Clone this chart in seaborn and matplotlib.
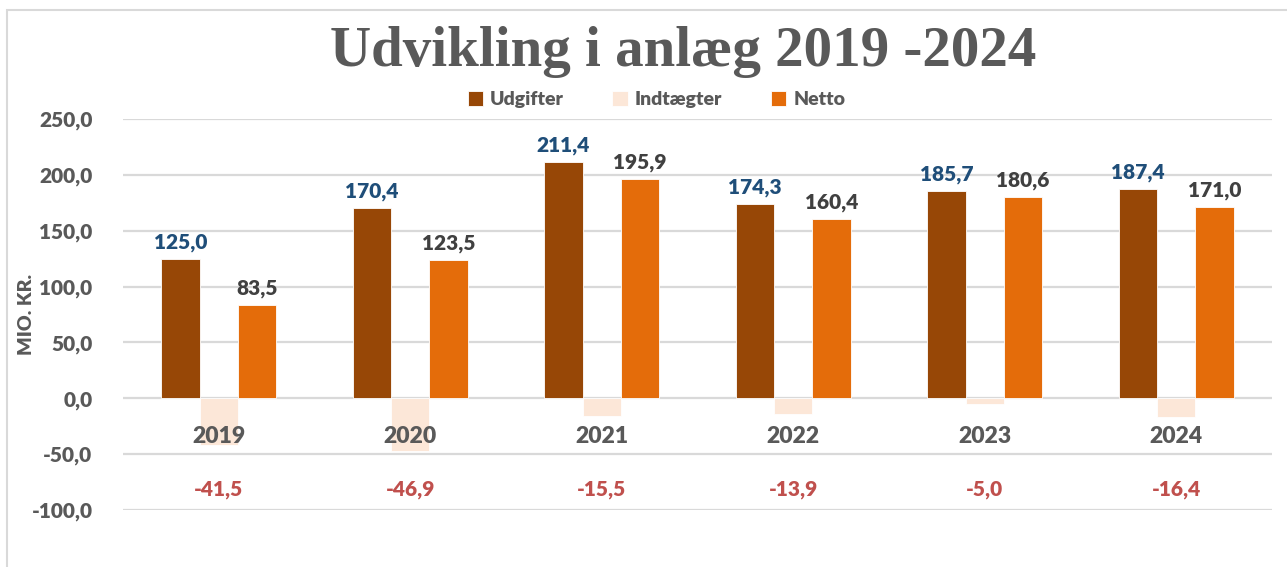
import numpy as np
import pandas as pd
import seaborn as sns
import matplotlib.pyplot as plt
from matplotlib.patches import Rectangle

years = ["2019", "2020", "2021", "2022", "2023", "2024"]
udgifter = [125.0, 170.4, 211.4, 174.3, 185.7, 187.4]
indtaegter = [-41.5, -46.9, -15.5, -13.9, -5.0, -16.4]
netto = [83.5, 123.5, 195.9, 160.4, 180.6, 171.0]
series = ["Udgifter", "Indtægter", "Netto"]
colors = ["#974706", "#FCE7D8", "#E46C0A"]
label_colors = ["#1F4E79", "#C0504D", "#404040"]
title = "Udvikling i anlæg 2019 -2024"
ylabel = "MIO. KR."

df = pd.DataFrame({
    "year": years * 3,
    "series": sum([[s] * len(years) for s in series], []),
    "value": udgifter + indtaegter + netto,
})

W = "heavy"
sns.set_theme(style="white")
plt.rcParams["font.family"] = ["Lato", "DejaVu Sans"]
plt.rcParams["font.weight"] = W
plt.rcParams["axes.labelweight"] = W
grey = "#595959"

fig = plt.figure(figsize=(12.87, 5.67), dpi=100)
ax = fig.add_axes([123/1287, 1 - 510/567, (1272-123)/1287, (510-119)/567])

sns.barplot(data=df, x="year", y="value", hue="series", hue_order=series,
            palette=colors, width=0.6, gap=0, ax=ax, legend=True,
            edgecolor="white", linewidth=0.6, saturation=1)

ax.set_ylim(-100, 250)
ax.grid(False)
ax.set_axisbelow(False)
for s in ["top", "right", "left"]:
    ax.spines[s].set_visible(False)
ax.spines["bottom"].set_position(("data", 0))
ax.spines["bottom"].set_visible(False)

yt = np.arange(-100, 251, 50)
ax.set_yticks(yt)
ax.set_yticklabels([f"{v:.1f}".replace(".", ",") for v in yt])
ax.set_xticks(range(len(years)))
ax.set_xticklabels(years)
ax.tick_params(axis="y", length=0, pad=22, labelsize=15, labelcolor=grey)
ax.tick_params(axis="x", length=0, pad=20, labelsize=16.5, labelcolor=grey)
plt.setp(ax.get_xticklabels() + ax.get_yticklabels(), fontweight=W)
ax.set_xlabel("")
for v in yt:
    ax.axhline(v, color="#D9D9D9", lw=1.6, zorder=0)

ax.set_ylabel(ylabel, fontsize=14, fontweight=W, color=grey)
ax.yaxis.set_label_coords(-0.077, 0.5)

# data labels
for i, cont in enumerate(ax.containers):
    for bar in cont:
        h = bar.get_height()
        xc = bar.get_x() + bar.get_width() / 2
        txt = f"{h:.1f}".replace(".", ",")
        if h >= 0:
            ax.annotate(txt, (xc, h), xytext=(0, 5), textcoords="offset points",
                        ha="center", va="bottom", fontsize=15, fontweight=W,
                        color=label_colors[i])
        else:
            ax.text(xc, -82, txt, ha="center", va="center", fontsize=15,
                    fontweight=W, color=label_colors[i])

leg = ax.legend(loc="center", bbox_to_anchor=(0.510, 0.824), bbox_transform=fig.transFigure,
                ncol=3, frameon=False, fontsize=14, handlelength=0.8, handleheight=0.8,
                handletextpad=0.35, columnspacing=2.5)
for t in leg.get_texts():
    t.set_color(grey)
    t.set_fontweight(W)

fig.text(0.531, 0.908, title, ha="center", va="center", fontsize=41,
         fontweight="bold", color=grey, family="Liberation Serif")

fig.patches.append(Rectangle((7/1287, -0.1), 1.0, 1 - 10/567 + 0.1,
                             transform=fig.transFigure, fill=False,
                             edgecolor="#D9D9D9", lw=1.5, zorder=0))

fig.savefig("out.png", dpi=100)
